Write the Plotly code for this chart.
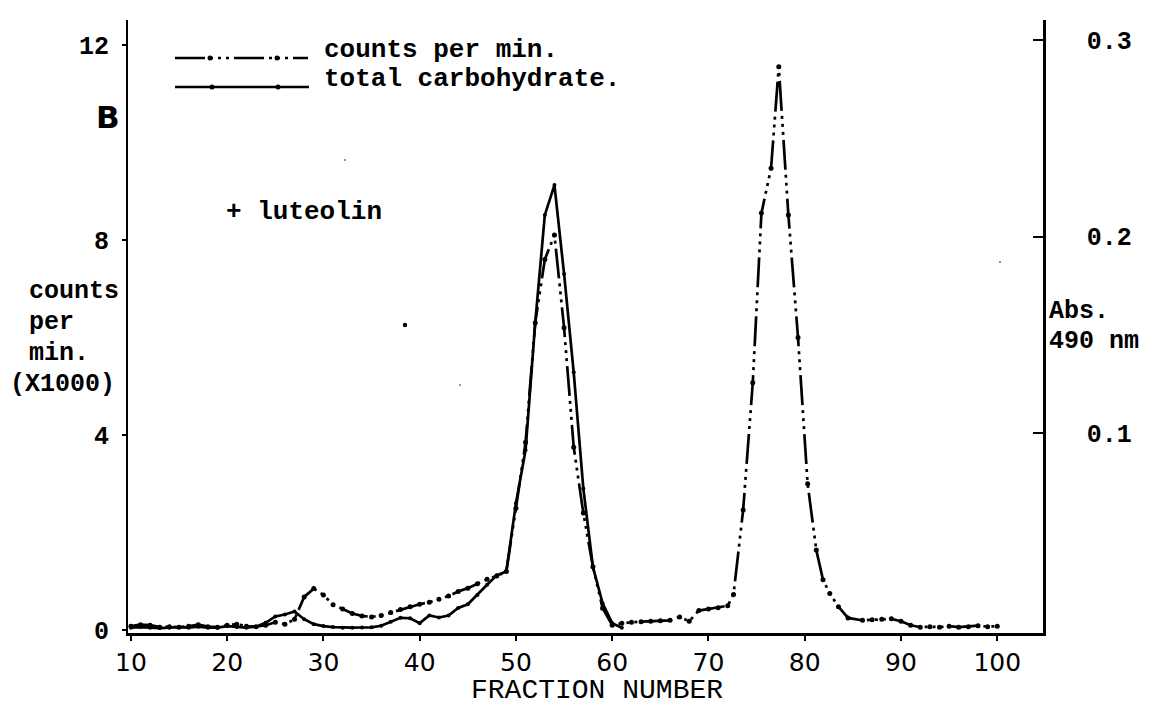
import plotly.graph_objects as go

# ---------------- data ----------------
# counts per min (x1000), left axis
cpm_fraction = [10, 11, 12, 13, 14, 15, 16, 17, 18, 19, 20, 21, 22, 23, 24, 25, 26, 27, 28, 29,
                30, 31, 32, 33, 34, 35, 36, 37, 38, 39, 40, 41, 42, 43, 44, 45, 46, 47, 48, 49,
                50, 51, 52, 53, 54, 55, 56, 57, 58, 59, 60, 61, 62, 63, 64, 65, 66, 67, 68, 69,
                70, 71, 72, 72.6, 73.6, 74.6, 75.5, 76.5, 77.3, 78.3, 79.3, 80.3, 81.2, 81.9,
                82.6, 83.5, 84.5, 86, 87, 88, 89, 90, 91, 92, 93, 94, 95, 96, 97, 98, 99, 100]
cpm_values = [0.08, 0.11, 0.10, 0.06, 0.07, 0.06, 0.08, 0.11, 0.07, 0.06, 0.10, 0.12, 0.08, 0.07,
              0.10, 0.16, 0.12, 0.22, 0.68, 0.85, 0.72, 0.52, 0.43, 0.34, 0.29, 0.27, 0.30, 0.36,
              0.42, 0.48, 0.53, 0.57, 0.63, 0.70, 0.79, 0.86, 0.95, 1.04, 1.11, 1.20, 2.50, 3.85,
              6.30, 7.60, 8.10, 6.20, 3.75, 2.40, 1.30, 0.45, 0.10, 0.14, 0.16, 0.17, 0.18, 0.19,
              0.20, 0.27, 0.18, 0.40, 0.43, 0.46, 0.50, 0.73, 2.46, 5.07, 8.55, 9.47, 11.55, 8.51,
              6.00, 3.00, 1.64, 1.03, 0.75, 0.48, 0.25, 0.20, 0.21, 0.22, 0.23, 0.18, 0.10, 0.06,
              0.07, 0.06, 0.08, 0.06, 0.07, 0.09, 0.07, 0.08]

# total carbohydrate (Abs. 490 nm), right axis
carb_fraction = list(range(10, 62))
carb_abs = [0.0012, 0.0015, 0.0012, 0.0010, 0.0012, 0.0015, 0.0012, 0.0017, 0.0012, 0.0012,
            0.0020, 0.0015, 0.0012, 0.0017, 0.0037, 0.0069, 0.0079, 0.0094, 0.0055, 0.0030,
            0.0020, 0.0015, 0.0012, 0.0012, 0.0013, 0.0014, 0.0022, 0.0042, 0.0062, 0.0060,
            0.0035, 0.0074, 0.0064, 0.0074, 0.0112, 0.0131, 0.0178, 0.0230, 0.0278, 0.0297,
            0.0645, 0.0915, 0.1560, 0.2110, 0.2262, 0.1810, 0.1310, 0.0720, 0.0320, 0.0136,
            0.0035, 0.0012]

x_ticks = [10, 20, 30, 40, 50, 60, 70, 80, 90, 100]
left_ticks = [0, 4, 8, 12]
left_tick_text = ["0", "4", "8", "12"]
right_ticks = [0.1, 0.2, 0.3]
right_tick_text = ["0.1", "0.2", "0.3"]

# ---------------- layout helpers ----------------
L, R, T, B = 128, 1043, 20, 633
W, H = 1155, 707


def PX(x):
    return (x - L) / (R - L)


def PY(y):
    return (B - y) / (B - T)


MONO = "Liberation Mono"
CPM_DASH = "30px,5px,3px,5px,3px,5px,3px,5px"

fig = go.Figure()
fig.add_trace(go.Scatter(
    x=cpm_fraction, y=cpm_values, mode="lines+markers", yaxis="y",
    line=dict(color="black", width=2.7, dash=CPM_DASH),
    marker=dict(color="black", size=5), showlegend=False))
fig.add_trace(go.Scatter(
    x=carb_fraction, y=carb_abs, mode="lines+markers", yaxis="y2",
    line=dict(color="black", width=2.7),
    marker=dict(color="black", size=4), showlegend=False))

shapes = []
# legend key samples
shapes.append(dict(type="line", xref="paper", yref="paper",
                   x0=PX(175), x1=PX(308), y0=PY(58), y1=PY(58),
                   line=dict(color="black", width=2.4, dash=CPM_DASH)))
shapes.append(dict(type="line", xref="paper", yref="paper",
                   x0=PX(175), x1=PX(309), y0=PY(87), y1=PY(87),
                   line=dict(color="black", width=2.4)))
for cx, cy in [(210, 58), (277, 58), (212, 87), (278, 87)]:
    shapes.append(dict(type="circle", xref="paper", yref="paper",
                       x0=PX(cx - 2.5), x1=PX(cx + 2.5), y0=PY(cy + 2.5), y1=PY(cy - 2.5),
                       fillcolor="black", line=dict(width=0)))
# specks in the scan
for cx, cy, r in [(405, 325, 2.2), (345, 160, 0.8), (460, 385, 0.8), (1000, 262, 0.8)]:
    shapes.append(dict(type="circle", xref="paper", yref="paper",
                       x0=PX(cx - r), x1=PX(cx + r), y0=PY(cy + r), y1=PY(cy - r),
                       fillcolor="black", line=dict(width=0)))

ann = []


def text(s, x, y, size=25, anchor="left", family=MONO, bold=True):
    ann.append(dict(text=("<b>%s</b>" % s) if bold else s, xref="paper", yref="paper",
                    x=PX(x), y=PY(y), xanchor=anchor, yanchor="middle", showarrow=False,
                    font=dict(family=family, size=size, color="black")))


text("counts per min.", 322, 50, size=26)
text("total carbohydrate.", 322, 79, size=26)
text("B", 108, 117, size=31, anchor="center", family="DejaVu Sans")
text("+ luteolin", 224, 212, size=26)
text("counts", 27, 291)
text("per", 27, 322)
text("min.", 27, 353)
text("(X1000)", 8, 385)
text("Abs.", 1047, 311)
text("490 nm", 1047, 341)
text("FRACTION NUMBER", 597, 691, size=28, anchor="center", bold=False)

fig.update_layout(
    width=W, height=H,
    margin=dict(l=L, r=W - R, t=T, b=H - B, pad=0),
    paper_bgcolor="white", plot_bgcolor="white",
    shapes=shapes, annotations=ann,
    xaxis=dict(range=[9.7, 104.75], tickvals=x_ticks, ticks="outside", ticklen=5,
               tickwidth=2, tickcolor="black", showline=True, linewidth=2.5, linecolor="black",
               showgrid=False, zeroline=False,
               tickfont=dict(family="DejaVu Sans", size=25, color="black")),
    yaxis=dict(range=[-0.06, 12.51], tickvals=left_ticks,
               ticktext=["<b>%s</b>" % t for t in left_tick_text], ticks="outside", ticklen=4,
               tickwidth=2, tickcolor="black", showline=True, linewidth=2.2, linecolor="black",
               showgrid=False, zeroline=False, ticklabelstandoff=8,
               tickfont=dict(family=MONO, size=25, color="black")),
    yaxis2=dict(range=[-0.0015, 0.3101], overlaying="y", side="right",
                tickvals=right_ticks, ticktext=["<b>%s</b>" % t for t in right_tick_text],
                ticks="inside", ticklen=10,
                tickwidth=2, tickcolor="black", showline=True, linewidth=2.5, linecolor="black",
                showgrid=False, zeroline=False, ticklabelstandoff=36,
                tickfont=dict(family=MONO, size=25, color="black")),
)

fig.write_html("out.html")
